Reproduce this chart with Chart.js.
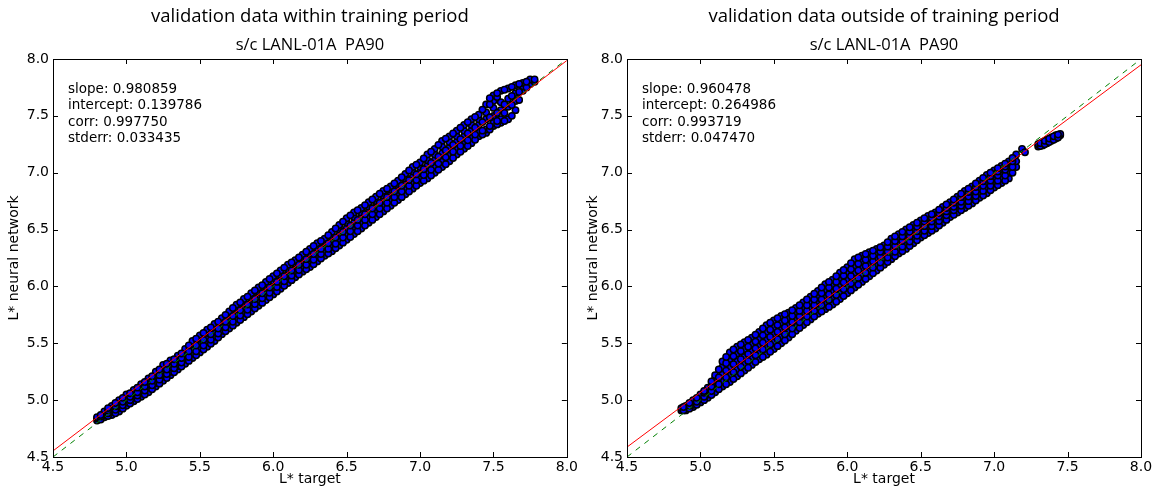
<!DOCTYPE html>
<html>
<head>
<meta charset="utf-8">
<script src="https://cdn.jsdelivr.net/npm/chart.js@4.4.1/dist/chart.umd.min.js"></script>
<style>
    body { margin: 0; background: #fff; }
    canvas { position: absolute; top: 0; }
    #left { left: 0; }
    #right { left: 580px; }
</style>
</head>
<body>
<canvas id="left" width="580" height="491"></canvas>
<canvas id="right" width="575" height="491"></canvas>
<script>
"use strict";

// tick values shared by both axes of both panels
const tickMin = 4.5;
const tickMax = 8.0;
const tickStep = 0.5;

// left panel: validation data within training period
const leftTitle = "validation data within training period";
const leftFit = [0.980859, 0.139786];
const leftStats = ["slope: 0.980859", "intercept: 0.139786", "corr: 0.997750", "stderr: 0.033435"];
const leftX = [4.80, 4.85, 4.90, 4.95, 5.00, 5.05, 5.10, 5.15, 5.20, 5.25, 5.30, 5.35, 5.40, 5.45, 5.50,
    5.55, 5.60, 5.65, 5.70, 5.75, 5.80, 5.85, 5.90, 5.95, 6.00, 6.05, 6.10, 6.15, 6.20, 6.25, 6.30,
    6.35, 6.40, 6.45, 6.50, 6.55, 6.60, 6.65, 6.70, 6.75, 6.80, 6.85, 6.90, 6.95, 7.00, 7.05, 7.10,
    7.15, 7.20, 7.25, 7.30, 7.35, 7.40, 7.45, 7.50, 7.55, 7.60, 7.65, 7.70, 7.75, 7.78];
const leftY = [
    [4.82, 4.84, 4.85], [4.85, 4.87, 4.88, 4.90], [4.87, 4.90, 4.93, 4.95], [4.90, 4.93, 4.96, 4.98, 5.00],
    [4.95, 4.98, 5.01, 5.03, 5.05], [4.99, 5.02, 5.05, 5.07, 5.09], [5.03, 5.06, 5.09, 5.12, 5.14],
    [5.07, 5.11, 5.14, 5.17, 5.19], [5.12, 5.15, 5.19, 5.22, 5.25], [5.17, 5.21, 5.24, 5.28, 5.31],
    [5.22, 5.25, 5.29, 5.32, 5.35], [5.27, 5.30, 5.34, 5.37, 5.39], [5.32, 5.36, 5.39, 5.42, 5.45],
    [5.37, 5.41, 5.45, 5.49, 5.52], [5.42, 5.46, 5.50, 5.54, 5.57], [5.47, 5.51, 5.55, 5.59, 5.62],
    [5.52, 5.56, 5.60, 5.64, 5.67], [5.58, 5.61, 5.65, 5.69, 5.72], [5.63, 5.67, 5.71, 5.75, 5.78],
    [5.68, 5.72, 5.76, 5.80, 5.84], [5.73, 5.77, 5.81, 5.85, 5.89], [5.78, 5.82, 5.86, 5.90, 5.94],
    [5.83, 5.87, 5.91, 5.95, 5.99], [5.88, 5.92, 5.96, 6.00, 6.04], [5.93, 5.97, 6.01, 6.05, 6.09],
    [5.98, 6.02, 6.06, 6.10, 6.14], [6.03, 6.07, 6.11, 6.15, 6.19], [6.08, 6.12, 6.16, 6.20, 6.23],
    [6.13, 6.17, 6.21, 6.25, 6.28], [6.17, 6.21, 6.25, 6.29, 6.33], [6.22, 6.26, 6.30, 6.34, 6.38],
    [6.27, 6.31, 6.35, 6.39, 6.42], [6.31, 6.35, 6.40, 6.44, 6.48], [6.36, 6.40, 6.45, 6.50, 6.54],
    [6.41, 6.46, 6.51, 6.56, 6.60], [6.46, 6.51, 6.56, 6.61, 6.65], [6.51, 6.56, 6.61, 6.65, 6.69],
    [6.56, 6.61, 6.66, 6.70, 6.74], [6.61, 6.66, 6.71, 6.75, 6.79], [6.66, 6.71, 6.76, 6.80, 6.84],
    [6.71, 6.76, 6.81, 6.85, 6.88], [6.76, 6.81, 6.86, 6.90, 6.93], [6.81, 6.86, 6.91, 6.95, 6.99],
    [6.86, 6.91, 6.96, 7.01, 7.05], [6.91, 6.96, 7.01, 7.05, 7.09], [6.95, 7.00, 7.06, 7.11, 7.16],
    [7.00, 7.05, 7.11, 7.16, 7.21], [7.05, 7.11, 7.17, 7.23, 7.28], [7.10, 7.16, 7.22, 7.27, 7.32],
    [7.16, 7.21, 7.27, 7.32, 7.37], [7.21, 7.26, 7.32, 7.37, 7.42], [7.26, 7.31, 7.37, 7.42, 7.47],
    [7.32, 7.36, 7.42, 7.47, 7.51], [7.35, 7.38, 7.47, 7.53, 7.60], [7.41, 7.44, 7.50, 7.57, 7.63, 7.68],
    [7.44, 7.47, 7.55, 7.62, 7.72], [7.47, 7.58, 7.65, 7.74], [7.55, 7.63, 7.70, 7.77],
    [7.72, 7.76, 7.79], [7.78, 7.82], [7.80, 7.82]
];
// in-between columns of the same band
const leftXMid = [4.825, 4.875, 4.925, 4.975, 5.025, 5.075, 5.125, 5.175, 5.225, 5.275, 5.325, 5.375,
    5.425, 5.475, 5.525, 5.575, 5.625, 5.675, 5.725, 5.775, 5.825, 5.875, 5.925, 5.975, 6.025, 6.075,
    6.125, 6.175, 6.225, 6.275, 6.325, 6.375, 6.425, 6.475, 6.525, 6.575, 6.625, 6.675, 6.725, 6.775,
    6.825, 6.875, 6.925, 6.975, 7.025, 7.075, 7.125, 7.175, 7.225, 7.275, 7.325, 7.375, 7.425, 7.475,
    7.525, 7.575, 7.625, 7.675, 7.725];
const leftYMid = [
    [4.83, 4.855, 4.87], [4.86, 4.885, 4.91, 4.93], [4.885, 4.915, 4.945, 4.975], [4.925, 4.955, 4.985, 5.02],
    [4.97, 5.00, 5.03, 5.06], [5.01, 5.04, 5.07, 5.11], [5.05, 5.085, 5.12, 5.16], [5.095, 5.13, 5.17, 5.21],
    [5.145, 5.18, 5.22, 5.27], [5.195, 5.23, 5.27, 5.32], [5.245, 5.28, 5.32, 5.36], [5.295, 5.33, 5.37, 5.41],
    [5.345, 5.38, 5.43, 5.48], [5.395, 5.43, 5.48, 5.54], [5.445, 5.48, 5.53, 5.59], [5.495, 5.53, 5.58, 5.64],
    [5.55, 5.585, 5.63, 5.69], [5.605, 5.64, 5.69, 5.75], [5.655, 5.69, 5.74, 5.81], [5.705, 5.745, 5.79, 5.86],
    [5.755, 5.795, 5.84, 5.91], [5.805, 5.845, 5.89, 5.965], [5.855, 5.895, 5.94, 6.01], [5.905, 5.945, 5.99, 6.065],
    [5.955, 5.995, 6.04, 6.115], [6.005, 6.045, 6.09, 6.165], [6.055, 6.095, 6.14, 6.21], [6.105, 6.145, 6.19, 6.255],
    [6.15, 6.19, 6.24, 6.305], [6.195, 6.235, 6.285, 6.355], [6.245, 6.285, 6.33, 6.40], [6.29, 6.33, 6.38, 6.45],
    [6.335, 6.375, 6.43, 6.51], [6.385, 6.43, 6.48, 6.57], [6.435, 6.485, 6.535, 6.625], [6.485, 6.535, 6.585, 6.67],
    [6.535, 6.585, 6.635, 6.715], [6.585, 6.635, 6.685, 6.765], [6.635, 6.685, 6.735, 6.815], [6.685, 6.735, 6.785, 6.86],
    [6.735, 6.785, 6.835, 6.905], [6.785, 6.835, 6.885, 6.96], [6.835, 6.885, 6.935, 7.02], [6.885, 6.935, 6.985, 7.07],
    [6.93, 6.98, 7.03, 7.125], [6.975, 7.025, 7.085, 7.185], [7.025, 7.08, 7.14, 7.245], [7.075, 7.135, 7.195, 7.30],
    [7.13, 7.185, 7.245, 7.345], [7.185, 7.235, 7.295, 7.395], [7.235, 7.285, 7.345, 7.445], [7.29, 7.335, 7.395, 7.49],
    [7.335, 7.37, 7.445, 7.555], [7.38, 7.41, 7.485, 7.60, 7.655], [7.425, 7.455, 7.525, 7.665, 7.70],
    [7.455, 7.525, 7.60, 7.73], [7.50, 7.595, 7.675, 7.755], [7.64, 7.71, 7.78], [7.75, 7.80]
];

// right panel: validation data outside of training period
const rightTitle = "validation data outside of training period";
const rightFit = [0.960478, 0.264986];
const rightStats = ["slope: 0.960478", "intercept: 0.264986", "corr: 0.993719", "stderr: 0.047470"];
const rightX = [4.87, 4.90, 4.95, 5.00, 5.05, 5.10, 5.15, 5.20, 5.25, 5.30, 5.35, 5.40, 5.45, 5.50, 5.55,
    5.60, 5.65, 5.70, 5.75, 5.80, 5.85, 5.90, 5.95, 6.00, 6.05, 6.10, 6.15, 6.20, 6.25, 6.30, 6.35,
    6.40, 6.45, 6.50, 6.55, 6.60, 6.65, 6.70, 6.75, 6.80, 6.85, 6.90, 6.95, 7.00, 7.05, 7.10, 7.15,
    7.19, 7.21, 7.30, 7.33, 7.36, 7.39, 7.42, 7.45];
const rightY = [
    [4.91, 4.93], [4.91, 4.93, 4.95], [4.94, 4.96, 4.98, 5.00], [4.98, 5.01, 5.03, 5.05],
    [5.02, 5.05, 5.08, 5.11], [5.07, 5.11, 5.15, 5.19, 5.22], [5.12, 5.17, 5.23, 5.29, 5.34],
    [5.16, 5.22, 5.29, 5.36, 5.42], [5.21, 5.27, 5.34, 5.41, 5.47], [5.26, 5.32, 5.38, 5.45, 5.51],
    [5.31, 5.37, 5.43, 5.49, 5.55], [5.36, 5.42, 5.48, 5.54, 5.60], [5.40, 5.47, 5.53, 5.60, 5.66],
    [5.45, 5.51, 5.58, 5.64, 5.70], [5.50, 5.56, 5.62, 5.68, 5.74], [5.55, 5.60, 5.66, 5.72, 5.77],
    [5.61, 5.66, 5.71, 5.76, 5.81], [5.66, 5.71, 5.76, 5.81, 5.86], [5.71, 5.76, 5.81, 5.86, 5.91],
    [5.76, 5.81, 5.86, 5.91, 5.96], [5.80, 5.86, 5.91, 5.97, 6.02], [5.84, 5.90, 5.95, 6.01, 6.06],
    [5.89, 5.95, 6.01, 6.07, 6.12], [5.94, 6.00, 6.06, 6.12, 6.17], [5.99, 6.05, 6.12, 6.18, 6.24],
    [6.04, 6.10, 6.16, 6.22, 6.27], [6.09, 6.14, 6.20, 6.25, 6.30], [6.14, 6.19, 6.24, 6.29, 6.33],
    [6.19, 6.23, 6.28, 6.32, 6.36], [6.24, 6.28, 6.33, 6.38, 6.42], [6.29, 6.33, 6.38, 6.42, 6.46],
    [6.33, 6.37, 6.42, 6.46, 6.50], [6.38, 6.42, 6.46, 6.50, 6.54], [6.43, 6.47, 6.51, 6.55, 6.58],
    [6.47, 6.51, 6.55, 6.59, 6.62], [6.51, 6.55, 6.59, 6.62, 6.65], [6.56, 6.60, 6.64, 6.67, 6.70],
    [6.61, 6.65, 6.68, 6.71, 6.74], [6.65, 6.69, 6.72, 6.76, 6.79], [6.69, 6.73, 6.77, 6.81, 6.84],
    [6.73, 6.77, 6.81, 6.85, 6.88], [6.78, 6.82, 6.86, 6.90, 6.93], [6.82, 6.86, 6.91, 6.95, 6.98],
    [6.87, 6.91, 6.95, 6.99, 7.02], [6.91, 6.95, 7.00, 7.03, 7.06], [6.95, 7.00, 7.05, 7.08, 7.10],
    [7.05, 7.10, 7.16], [7.21], [7.18], [7.23, 7.25], [7.24, 7.27], [7.26, 7.29], [7.28, 7.31],
    [7.30, 7.33], [7.33, 7.34]
];
const rightXMid = [4.885, 4.925, 4.975, 5.025, 5.075, 5.125, 5.175, 5.225, 5.275, 5.325, 5.375, 5.425,
    5.475, 5.525, 5.575, 5.625, 5.675, 5.725, 5.775, 5.825, 5.875, 5.925, 5.975, 6.025, 6.075, 6.125,
    6.175, 6.225, 6.275, 6.325, 6.375, 6.425, 6.475, 6.525, 6.575, 6.625, 6.675, 6.725, 6.775, 6.825,
    6.875, 6.925, 6.975, 7.025, 7.075, 7.125, 7.315, 7.345, 7.375, 7.405, 7.435];
const rightYMid = [
    [4.91, 4.94], [4.925, 4.95, 4.975], [4.96, 4.985, 5.02], [5.00, 5.03, 5.065, 5.08],
    [5.045, 5.08, 5.12, 5.165], [5.095, 5.14, 5.20, 5.27], [5.14, 5.20, 5.26, 5.325, 5.38],
    [5.185, 5.245, 5.315, 5.385, 5.445], [5.235, 5.295, 5.36, 5.43, 5.49], [5.285, 5.345, 5.405, 5.47, 5.53],
    [5.335, 5.395, 5.455, 5.515, 5.575], [5.38, 5.445, 5.505, 5.57, 5.63], [5.425, 5.49, 5.555, 5.62, 5.68],
    [5.475, 5.535, 5.60, 5.66, 5.72], [5.525, 5.58, 5.64, 5.70, 5.755], [5.58, 5.63, 5.685, 5.74, 5.79],
    [5.635, 5.685, 5.735, 5.785, 5.835], [5.685, 5.735, 5.785, 5.835, 5.885], [5.735, 5.785, 5.835, 5.885, 5.935],
    [5.78, 5.835, 5.885, 5.94, 5.99], [5.82, 5.88, 5.93, 5.99, 6.04], [5.865, 5.925, 5.98, 6.04, 6.09],
    [5.915, 5.975, 6.035, 6.095, 6.145], [5.965, 6.025, 6.09, 6.15, 6.205], [6.015, 6.075, 6.14, 6.20, 6.255],
    [6.065, 6.12, 6.18, 6.235, 6.285], [6.115, 6.165, 6.22, 6.27, 6.315], [6.165, 6.21, 6.26, 6.305, 6.345],
    [6.215, 6.255, 6.305, 6.35, 6.39], [6.265, 6.305, 6.355, 6.40, 6.44], [6.31, 6.35, 6.40, 6.44, 6.48],
    [6.355, 6.395, 6.44, 6.48, 6.52], [6.405, 6.445, 6.485, 6.525, 6.56], [6.45, 6.49, 6.53, 6.57, 6.60],
    [6.49, 6.53, 6.57, 6.605, 6.635], [6.535, 6.575, 6.615, 6.645, 6.675], [6.585, 6.625, 6.66, 6.69, 6.72],
    [6.63, 6.67, 6.70, 6.735, 6.765], [6.67, 6.71, 6.745, 6.785, 6.815], [6.71, 6.75, 6.79, 6.83, 6.86],
    [6.755, 6.795, 6.835, 6.875, 6.905], [6.80, 6.84, 6.885, 6.925, 6.955], [6.845, 6.885, 6.93, 6.97, 7.00],
    [6.89, 6.93, 6.975, 7.01, 7.04], [6.93, 6.975, 7.025, 7.055, 7.08], [7.00, 7.05, 7.10, 7.13],
    [7.235, 7.26], [7.25, 7.28], [7.27, 7.30], [7.29, 7.32], [7.31, 7.335]
];

const subTitle = "s/c LANL-01A  PA90";
const tickFont = { family: "DejaVu Sans", size: 14 };

function toPoints(xs, ys, points) {
    xs.forEach(function (x, i) {
        ys[i].forEach(function (y) { points.push({ x: x, y: y }); });
    });
    return points;
}

// black box round the plot with short inward ticks on all four sides, plus the fit numbers
const framePlugin = {
    id: "frame",
    afterDatasetsDraw: function (chart) {
        const ctx = chart.ctx;
        const a = chart.chartArea;
        const sx = chart.scales.x;
        const sy = chart.scales.y;
        ctx.save();
        ctx.strokeStyle = "#000";
        ctx.lineWidth = 1;
        ctx.beginPath();
        sx.ticks.forEach(function (t) {
            const px = Math.round(sx.getPixelForValue(t.value)) + 0.5;
            ctx.moveTo(px, a.bottom); ctx.lineTo(px, a.bottom - 5);
            ctx.moveTo(px, a.top); ctx.lineTo(px, a.top + 5);
        });
        sy.ticks.forEach(function (t) {
            const py = Math.round(sy.getPixelForValue(t.value)) + 0.5;
            ctx.moveTo(a.left, py); ctx.lineTo(a.left + 5, py);
            ctx.moveTo(a.right, py); ctx.lineTo(a.right - 5, py);
        });
        ctx.stroke();
        ctx.strokeRect(Math.round(a.left) + 0.5, Math.round(a.top) + 0.5,
            Math.round(a.right - a.left), Math.round(a.bottom - a.top));

        ctx.fillStyle = "#000";
        ctx.font = "13.5px 'DejaVu Sans'";
        ctx.textBaseline = "middle";
        chart.options.plugins.frame.lines.forEach(function (line, i) {
            ctx.fillText(line, a.left + 15, a.top + 30 + i * 16.5);
        });
        ctx.restore();
    }
};

function makeChart(id, title, band, fit, stats, axisWidth, rightPad, yTitlePad) {
    const fitLine = [
        { x: tickMin, y: fit[0] * tickMin + fit[1] },
        { x: tickMax, y: fit[0] * tickMax + fit[1] }
    ];
    const unitLine = [{ x: tickMin, y: tickMin }, { x: tickMax, y: tickMax }];

    return new Chart(document.getElementById(id), {
        type: "scatter",
        data: {
            datasets: [{
                data: fitLine,
                showLine: true,
                borderColor: "#ff0000",
                borderWidth: 1,
                pointRadius: 0
            }, {
                data: unitLine,
                showLine: true,
                borderColor: "#008000",
                borderWidth: 1,
                borderDash: [5.5, 5.5],
                pointRadius: 0
            }, {
                data: band,
                backgroundColor: "#0000ff",
                borderColor: "#000",
                borderWidth: 1.5,
                pointRadius: 3.2
            }]
        },
        plugins: [framePlugin],
        options: {
            responsive: false,
            animation: false,
            events: [],
            layout: { padding: { left: 0, right: rightPad, top: 0, bottom: 0 } },
            plugins: {
                legend: { display: false },
                tooltip: { enabled: false },
                frame: { lines: stats },
                title: {
                    display: true,
                    text: title,
                    fullSize: false,
                    color: "#000",
                    font: { family: "Open Sans", size: 18.5, weight: "normal" },
                    padding: { top: 6, bottom: 7 }
                },
                subtitle: {
                    display: true,
                    text: subTitle,
                    fullSize: false,
                    color: "#000",
                    font: { family: "Open Sans", size: 16.5, weight: "normal" },
                    padding: { top: 0, bottom: 4 }
                }
            },
            scales: {
                x: {
                    type: "linear",
                    min: tickMin,
                    max: tickMax,
                    grid: { display: false, drawTicks: false },
                    border: { display: false },
                    ticks: {
                        stepSize: tickStep,
                        padding: 2,
                        color: "#000",
                        font: tickFont,
                        maxRotation: 0,
                        autoSkip: false,
                        callback: function (v) { return v.toFixed(1); }
                    },
                    title: {
                        display: true,
                        text: "L* target",
                        color: "#000",
                        font: tickFont,
                        padding: { top: 0, bottom: 3 }
                    },
                    afterFit: function (scale) { scale.height = 34; }
                },
                y: {
                    type: "linear",
                    min: tickMin,
                    max: tickMax,
                    grid: { display: false, drawTicks: false },
                    border: { display: false },
                    ticks: {
                        stepSize: tickStep,
                        padding: 4,
                        color: "#000",
                        font: tickFont,
                        autoSkip: false,
                        callback: function (v) { return v.toFixed(1); }
                    },
                    title: {
                        display: true,
                        text: "L* neural network",
                        color: "#000",
                        font: tickFont,
                        padding: { top: yTitlePad, bottom: 0 }
                    },
                    afterFit: function (scale) { scale.width = axisWidth; }
                }
            }
        }
    });
}

const leftBand = toPoints(leftXMid, leftYMid, toPoints(leftX, leftY, []));
const rightBand = toPoints(rightXMid, rightYMid, toPoints(rightX, rightY, []));
makeChart("left", leftTitle, leftBand, leftFit, leftStats, 53, 13, 6);
makeChart("right", rightTitle, rightBand, rightFit, rightStats, 47, 14, 5);
</script>
</body>
</html>
